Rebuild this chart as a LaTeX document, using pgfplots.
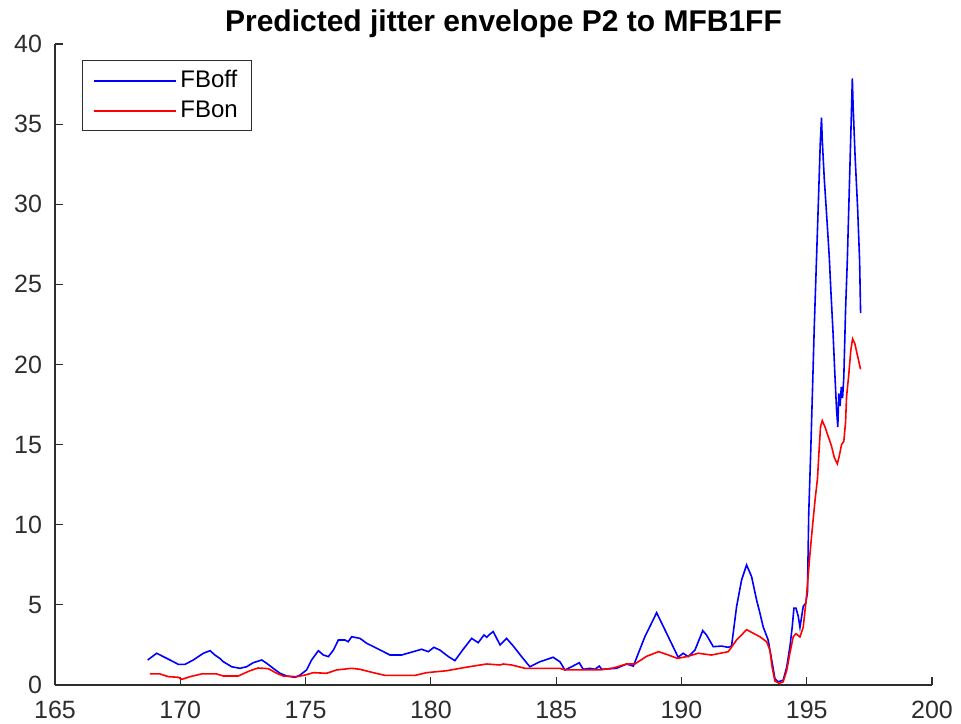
\documentclass[border=0pt]{standalone}
\usepackage{fontspec}
\setmainfont{Liberation Sans}
\usepackage{pgfplots}
\pgfplotsset{compat=1.18}
\usetikzlibrary{calc}

\pgfplotstableread{
x y
168.70 1.56
169.06 1.98
169.32 1.77
169.59 1.56
169.92 1.29
170.19 1.29
170.52 1.56
170.92 1.98
171.19 2.14
171.38 1.87
171.58 1.66
171.72 1.45
172.05 1.14
172.38 1.04
172.65 1.14
172.91 1.39
173.25 1.56
173.45 1.35
173.71 1.04
173.98 0.73
174.25 0.56
174.58 0.48
174.78 0.62
175.04 0.94
175.24 1.56
175.51 2.14
175.71 1.87
175.91 1.77
176.11 2.18
176.31 2.81
176.57 2.81
176.70 2.70
176.84 3.01
177.17 2.91
177.44 2.60
177.84 2.29
178.37 1.87
178.83 1.87
179.30 2.08
179.63 2.23
179.90 2.08
180.12 2.35
180.36 2.18
180.70 1.77
180.96 1.52
181.29 2.23
181.63 2.91
181.89 2.64
182.12 3.12
182.23 2.98
182.36 3.18
182.49 3.33
182.76 2.50
183.02 2.91
183.29 2.43
183.62 1.77
183.95 1.14
184.35 1.45
184.88 1.73
185.15 1.45
185.35 0.94
185.62 1.14
185.92 1.39
186.08 0.98
186.35 1.04
186.55 0.98
186.72 1.18
186.82 0.98
187.41 1.04
187.81 1.31
188.08 1.18
188.54 3.01
189.01 4.51
189.41 3.22
189.87 1.73
190.07 1.98
190.27 1.77
190.54 2.18
190.85 3.39
191.00 3.12
191.27 2.39
191.60 2.43
191.87 2.35
192.00 2.43
192.20 4.88
192.40 6.55
192.60 7.49
192.80 6.76
193.00 5.30
193.13 4.50
193.26 3.64
193.46 2.81
193.62 1.40
193.73 0.40
193.86 0.20
194.06 0.30
194.20 1.10
194.33 2.40
194.42 3.60
194.49 4.80
194.57 4.80
194.66 4.30
194.73 3.60
194.80 4.30
194.86 4.90
194.96 5.10
195.03 5.80
195.08 10.70
195.16 14.60
195.23 18.40
195.30 22.30
195.38 26.10
195.46 29.90
195.54 33.80
195.59 35.40
195.62 34.00
195.70 31.60
195.80 29.20
195.90 26.70
195.97 24.40
196.05 22.00
196.12 19.50
196.19 17.20
196.24 16.10
196.28 18.20
196.33 17.40
196.38 18.60
196.43 17.90
196.48 19.20
196.55 23.40
196.62 26.50
196.70 31.00
196.78 35.50
196.82 37.85
196.85 36.20
196.93 33.00
197.03 29.80
197.11 26.50
197.15 23.20
}\fboff

\pgfplotstableread{
x y
168.79 0.69
169.19 0.69
169.52 0.52
169.92 0.48
170.06 0.35
170.39 0.52
170.85 0.69
171.45 0.69
171.72 0.56
172.31 0.56
172.78 0.89
173.11 1.06
173.51 1.02
173.85 0.73
174.11 0.56
174.65 0.52
174.98 0.62
175.31 0.77
175.84 0.73
176.24 0.94
176.84 1.04
177.17 0.98
177.70 0.77
178.17 0.60
179.37 0.60
179.83 0.77
180.63 0.89
181.16 1.04
181.69 1.18
182.23 1.31
182.76 1.25
182.89 1.31
183.22 1.25
183.76 1.04
185.15 1.04
185.35 0.94
186.75 0.94
187.28 1.06
187.81 1.31
188.14 1.31
188.61 1.79
189.09 2.08
189.48 1.87
189.84 1.66
190.21 1.77
190.67 1.98
191.20 1.87
191.87 2.08
192.20 2.81
192.60 3.45
193.13 3.01
193.40 2.70
193.53 2.18
193.62 1.10
193.73 0.25
193.90 0.10
194.06 0.20
194.20 0.90
194.33 2.00
194.46 3.00
194.57 3.20
194.73 3.00
194.86 3.60
194.99 5.50
195.13 8.20
195.23 9.90
195.33 11.50
195.43 12.90
195.48 14.30
195.55 16.10
195.62 16.50
195.73 16.10
195.86 15.50
195.99 14.90
196.10 14.20
196.22 13.80
196.30 14.30
196.39 15.00
196.48 15.20
196.55 16.40
196.59 18.00
196.68 19.40
196.76 20.90
196.83 21.60
196.92 21.30
197.02 20.60
197.12 19.90
197.15 19.70
}\fbon

\definecolor{axgray}{RGB}{45,45,45}

\begin{document}
\begin{tikzpicture}
\begin{axis}[
  name=ax,
  scale only axis,
  width=438.5pt,
  height=320.5pt,
  xmin=165, xmax=200,
  ymin=0, ymax=40,
  xtick={165,170,...,200},
  ytick={0,5,...,40},
  axis x line*=bottom,
  axis y line*=left,
  axis line style={axgray, line width=0.6pt},
  tick style={axgray, line width=0.6pt},
  tick align=inside,
  major tick length=4pt,
  every tick label/.append style={font=\fontsize{12.5}{14}\selectfont, text=axgray},
  xticklabel style={yshift=-4.5pt},
  yticklabel style={xshift=-3pt},
  /pgf/number format/assume math mode=true,
  /pgf/number format/1000 sep={},
  title={\bfseries Predicted jitter envelope P2 to MFB1FF},
  title style={font=\fontsize{15}{17}\selectfont, at={(0.5,1)}, anchor=base, xshift=5pt, yshift=0pt},
  legend style={
    at={(0.031,0.975)},
    anchor=north west,
    draw=axgray,
    line width=0.6pt,
    font=\fontsize{12}{14}\selectfont,
    row sep=1pt,
    inner xsep=5pt,
    inner ysep=3pt,
  },
  legend cell align=left,
  legend image code/.code={%
    \draw[#1, line width=0.8pt] (0pt,0pt) -- (41pt,0pt);%
  },
  clip=false,
]
\addplot[blue, line width=0.8pt] table[x=x, y=y] {\fboff};
\addlegendentry{FBoff}
\addplot[red, line width=0.8pt] table[x=x, y=y] {\fbon};
\addlegendentry{FBon}
\end{axis}
\pgfresetboundingbox
\path[use as bounding box] ($(ax.south west)+(-27.5pt,-19.5pt)$) rectangle ($(ax.north east)+(14.5pt,22pt)$);
\end{tikzpicture}
\end{document}
